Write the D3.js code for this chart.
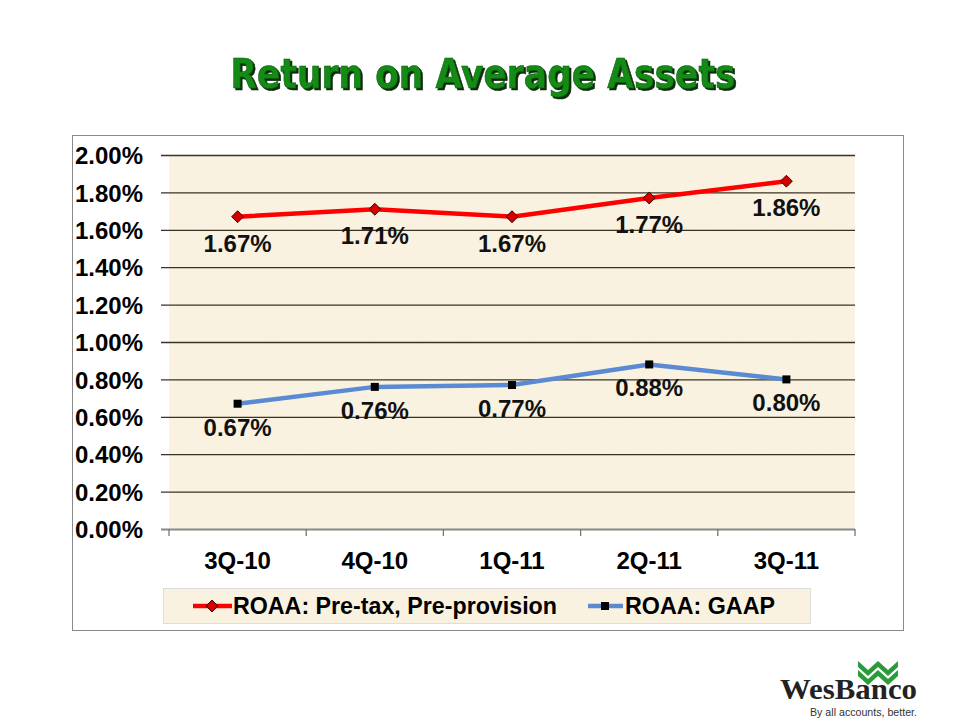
<!DOCTYPE html>
<html><head><meta charset="utf-8">
<script src="https://cdn.jsdelivr.net/npm/d3@7"></script>
<style>body{margin:0;background:#fff}svg{display:block}</style>
</head><body>
<svg id="c" width="960" height="720"></svg>
<script>
const categories = ["3Q-10","4Q-10","1Q-11","2Q-11","3Q-11"];
const pretaxValues = [1.67,1.71,1.67,1.77,1.86];
const gaapValues = [0.67,0.76,0.77,0.88,0.80];
const yTicks = [0,0.2,0.4,0.6,0.8,1.0,1.2,1.4,1.6,1.8,2.0];
const seriesNames = ["ROAA: Pre-tax, Pre-provision","ROAA: GAAP"];

const svg = d3.select("#c");
const defs = svg.append("defs");
const f = defs.append("filter").attr("id","paper").attr("x",0).attr("y",0).attr("width","100%").attr("height","100%");
f.append("feTurbulence").attr("type","fractalNoise").attr("baseFrequency","0.035").attr("numOctaves",3).attr("seed",4).attr("result","n");
f.append("feColorMatrix").attr("in","n").attr("type","matrix")
 .attr("values","0 0 0 0 0.94  0 0 0 0 0.87  0 0 0 0 0.72  0 0 0 0.25 -0.05").attr("result","c");
f.append("feComposite").attr("in","c").attr("in2","SourceGraphic").attr("operator","in");

const sh = defs.append("filter").attr("id","tsh").attr("x","-5%").attr("y","-20%").attr("width","110%").attr("height","140%");
sh.append("feOffset").attr("in","SourceAlpha").attr("dx",2).attr("dy",2).attr("result","o");
sh.append("feFlood").attr("flood-color","#0b2a0b").attr("result","fc");
sh.append("feComposite").attr("in","fc").attr("in2","o").attr("operator","in").attr("result","s");
const m = sh.append("feMerge"); m.append("feMergeNode").attr("in","s"); m.append("feMergeNode").attr("in","SourceGraphic");

// Title
svg.append("text").attr("x",483).attr("y",88).attr("text-anchor","middle")
 .attr("font-family","DejaVu Sans").attr("font-weight","bold").attr("font-size",40)
 .attr("textLength",505).attr("lengthAdjust","spacingAndGlyphs")
 .attr("fill","#128a12").attr("stroke","#0a5a0a").attr("stroke-width",0.6).attr("filter","url(#tsh)")
 .text("Return on Average Assets");

// Outer frame
svg.append("rect").attr("x",72.5).attr("y",135.5).attr("width",831).attr("height",495)
 .attr("fill","#fff").attr("stroke","#8a8a8a").attr("stroke-width",1);

const L=169, R=855, T=155, B=529;
const x = d3.scaleBand().domain(categories).range([L,R]);
const y = d3.scaleLinear().domain([0,2]).range([B,T]);

function paper(xx,yy,w,h){
  svg.append("rect").attr("x",xx).attr("y",yy).attr("width",w).attr("height",h).attr("fill","#faf2e0");
  svg.append("rect").attr("x",xx).attr("y",yy).attr("width",w).attr("height",h).attr("fill","#faf2e0").attr("filter","url(#paper)");
}
paper(L,T,R-L,B-T);

// gridlines + y ticks
const yAxis = d3.axisLeft(y).tickValues(yTicks).tickFormat(d=>d.toFixed(2)+"%").tickSize(-(R-L)).tickPadding(18);
const gy = svg.append("g").attr("transform",`translate(${L},0)`).call(yAxis);
gy.select(".domain").remove();
gy.selectAll(".tick line").attr("x1",-8).attr("stroke","#3b3226").attr("stroke-width",1.3);
gy.selectAll(".tick").filter(d=>d===0).select("line").attr("stroke","#888").attr("stroke-width",2);
gy.selectAll(".tick text").attr("font-family","Liberation Sans").attr("font-weight","bold").attr("font-size",24).attr("fill","#000").attr("x",-26).attr("dy","0.36em");

// x axis
const gx = svg.append("g").attr("transform",`translate(0,${B})`).call(d3.axisBottom(x).tickSize(0).tickPadding(23));
gx.select(".domain").remove();
gx.selectAll(".tick text").attr("font-family","Liberation Sans").attr("font-weight","bold").attr("font-size",24).attr("fill","#000").attr("dy","0.71em");
const bounds = categories.map(c=>x(c)).concat([R]);
svg.append("g").selectAll("line").data(bounds).join("line")
 .attr("x1",d=>d).attr("x2",d=>d).attr("y1",B).attr("y2",B+7).attr("stroke","#777").attr("stroke-width",1.3);

const cx = c => x(c)+x.bandwidth()/2;
const line = d3.line().x((d,i)=>cx(categories[i])).y(d=>y(d));

// red series
svg.append("path").datum(pretaxValues).attr("d",line).attr("fill","none").attr("stroke","#f00").attr("stroke-width",4.5);
svg.append("g").selectAll("path").data(pretaxValues).join("path")
 .attr("d",d3.symbol().type(d3.symbolDiamond2).size(90))
 .attr("transform",(d,i)=>`translate(${cx(categories[i])},${y(d)})`)
 .attr("fill","#d40000").attr("stroke","#3a0000").attr("stroke-width",1);
// blue series
svg.append("path").datum(gaapValues).attr("d",line).attr("fill","none").attr("stroke","#5a8ad2").attr("stroke-width",4.5);
svg.append("g").selectAll("rect").data(gaapValues).join("rect")
 .attr("x",(d,i)=>cx(categories[i])-4).attr("y",d=>y(d)-4).attr("width",8).attr("height",8).attr("fill","#000");

// data labels
const lab = (vals,off)=> svg.append("g").selectAll("text").data(vals).join("text")
 .attr("x",(d,i)=>cx(categories[i])).attr("y",d=>y(d)+off).attr("text-anchor","middle")
 .attr("font-family","Liberation Sans").attr("font-weight","bold").attr("font-size",24).attr("fill","#111")
 .text(d=>d.toFixed(2)+"%");
lab(pretaxValues,35); lab(gaapValues,32);

// legend
paper(163,588,647,35);
svg.append("rect").attr("x",163.5).attr("y",588.5).attr("width",647).attr("height",35).attr("fill","none").attr("stroke","#ddd");
const ly = 606;
svg.append("line").attr("x1",193).attr("x2",232).attr("y1",ly).attr("y2",ly).attr("stroke","#f00").attr("stroke-width",4.5);
svg.append("path").attr("d",d3.symbol().type(d3.symbolDiamond2).size(90)).attr("transform",`translate(212,${ly})`).attr("fill","#d40000").attr("stroke","#3a0000");
svg.append("text").attr("x",233).attr("y",ly+8).attr("font-family","Liberation Sans").attr("font-weight","bold").attr("font-size",23)
 .attr("textLength",324).attr("lengthAdjust","spacingAndGlyphs").text(seriesNames[0]);
svg.append("line").attr("x1",588).attr("x2",623).attr("y1",ly).attr("y2",ly).attr("stroke","#5a8ad2").attr("stroke-width",4.5);
svg.append("rect").attr("x",601).attr("y",ly-4).attr("width",8).attr("height",8).attr("fill","#000");
svg.append("text").attr("x",625).attr("y",ly+8).attr("font-family","Liberation Sans").attr("font-weight","bold").attr("font-size",23)
 .attr("textLength",150).attr("lengthAdjust","spacingAndGlyphs").text(seriesNames[1]);

// logo
const lg = svg.append("g");
[0,9].forEach(o=>{
  lg.append("path").attr("d",`M858,${661+o} L868,${670+o} L878,${661+o} L888,${670+o} L898,${661+o} L898,${667+o} L888,${676+o} L878,${667+o} L868,${676+o} L858,${667+o} Z`)
   .attr("fill","#2a9a3a");
});
lg.append("text").attr("x",780).attr("y",699).attr("font-family","Liberation Serif").attr("font-weight","bold").attr("font-size",29)
 .attr("textLength",137).attr("lengthAdjust","spacingAndGlyphs").attr("fill","#222").text("WesBanco");
lg.append("text").attr("x",810).attr("y",716).attr("font-family","Liberation Sans").attr("font-size",11)
 .attr("textLength",107).attr("lengthAdjust","spacingAndGlyphs").attr("fill","#333").text("By all accounts, better.");
</script>
</body></html>
